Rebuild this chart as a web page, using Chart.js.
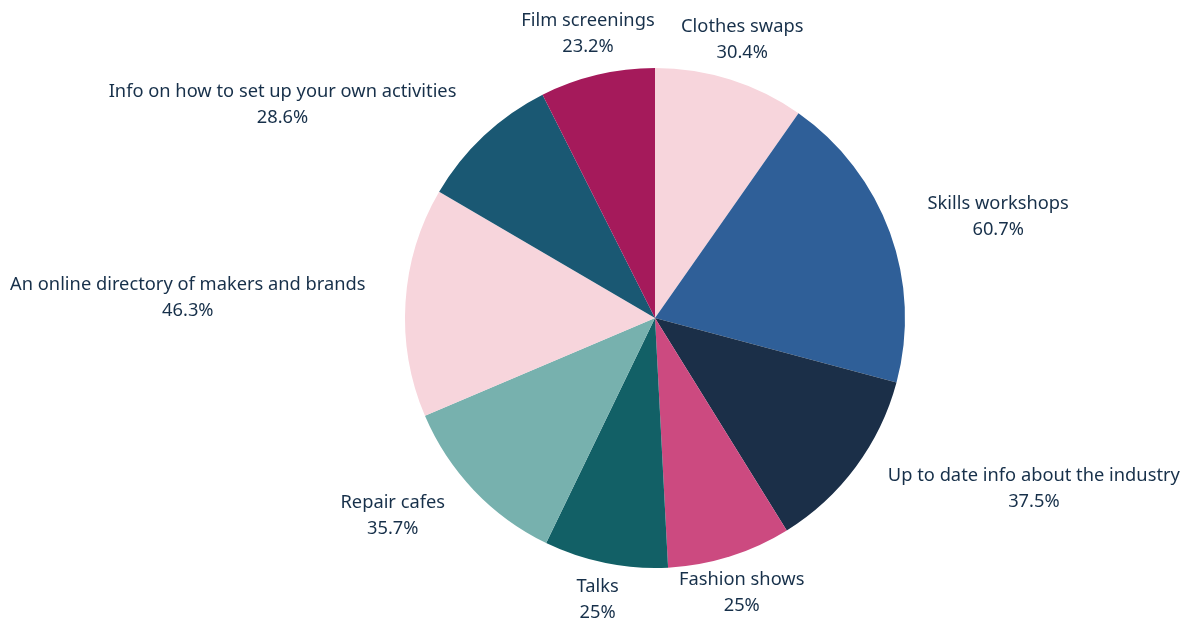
<!DOCTYPE html>
<html>
<head>
<meta charset="utf-8">
<script src="https://cdn.jsdelivr.net/npm/chart.js@4.4.1/dist/chart.umd.min.js"></script>
<style>
html,body{margin:0;padding:0;background:#fff;}
#wrap{width:1186px;height:618px;}
</style>
</head>
<body>
<div id="wrap"><canvas id="c" width="1186" height="618"></canvas></div>
<script>
const categories = ["Clothes swaps","Skills workshops","Up to date info about the industry","Fashion shows","Talks","Repair cafes","An online directory of makers and brands","Info on how to set up your own activities","Film screenings"];
const values = [30.4,60.7,37.5,25,25,35.7,46.3,28.6,23.2];
const valueLabels = ["30.4%","60.7%","37.5%","25%","25%","35.7%","46.3%","28.6%","23.2%"];
const colors = ["#f7d5dc","#2f5f98","#1b2f48","#cc4a80","#126066","#77b1ae","#f7d5dc","#1a5873","#a51a5b"];

const labelPlugin = {
  id: 'outerLabels',
  afterDraw(chart) {
    const ctx = chart.ctx;
    const meta = chart.getDatasetMeta(0);
    ctx.save();
    ctx.font = '18.3px "Noto Sans"';
    ctx.fillStyle = '#17304a';
    ctx.textBaseline = 'middle';
    meta.data.forEach((arc, i) => {
      const p = arc.getProps(['x','y','startAngle','endAngle','outerRadius'], true);
      const mid = (p.startAngle + p.endAngle) / 2;
      const r = p.outerRadius + 40;
      const ax = p.x + Math.cos(mid) * r;
      const ay = p.y + Math.sin(mid) * r - 2;
      const l1 = categories[i], l2 = valueLabels[i];
      const w = Math.max(ctx.measureText(l1).width, ctx.measureText(l2).width);
      let cx = ax;
      const cs = Math.cos(mid);
      if (cs > 0.5) cx = ax + w / 2;
      else if (cs < -0.5) cx = ax - w / 2;
      ctx.textAlign = 'center';
      ctx.fillText(l1, cx, ay - 13);
      ctx.fillText(l2, cx, ay + 13);
    });
    ctx.restore();
  }
};

new Chart(document.getElementById('c'), {
  type: 'pie',
  data: {
    labels: categories,
    datasets: [{ data: values, backgroundColor: colors, borderWidth: 0 }]
  },
  options: {
    responsive: false,
    animation: false,
    layout: { padding: { top: 68, bottom: 50, left: 405, right: 281 } },
    plugins: { legend: { display: false }, tooltip: { enabled: false } }
  },
  plugins: [labelPlugin]
});
</script>
</body>
</html>
